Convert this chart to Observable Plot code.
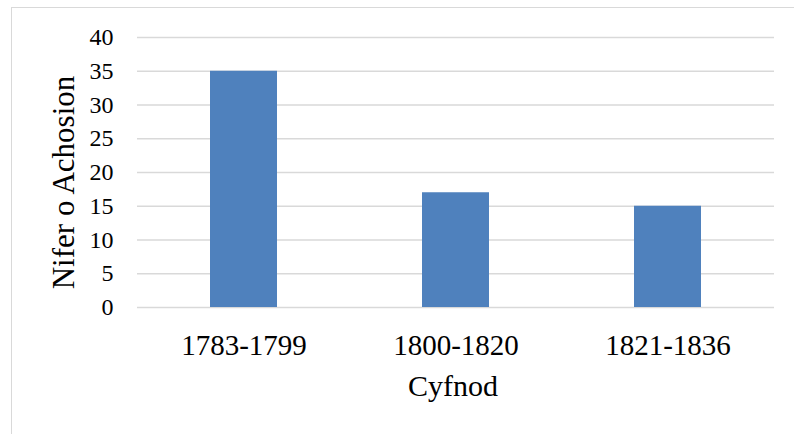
<!DOCTYPE html>
<html>
<head>
<meta charset="utf-8">
<script src="https://cdn.jsdelivr.net/npm/d3@7"></script>
<script src="https://cdn.jsdelivr.net/npm/@observablehq/plot@0.6"></script>
<style>
  html, body { margin: 0; padding: 0; background: #fff; overflow: hidden; }
  #frame { position: absolute; left: 11px; top: 6.5px; width: 820px; height: 500px;
           border: 1.5px solid #d9d9d9; box-sizing: border-box; z-index: 0; }
  #chart { position: absolute; left: 0; top: 0; z-index: 1; }
</style>
</head>
<body>
<div id="frame"></div>
<div id="chart"></div>
<script>
const categories = ["1783-1799", "1800-1820", "1821-1836"];
const values = [35, 17, 15];
const yTicks = [0, 5, 10, 15, 20, 25, 30, 35, 40];
const yTitle = "Nifer o Achosion";
const xTitle = "Cyfnod";

const data = categories.map((c, i) => ({ period: c, count: values[i] }));
const font = "'Liberation Serif', 'DejaVu Serif', serif";

const chart = Plot.plot({
  width: 794,
  height: 434,
  marginLeft: 137,
  marginRight: 20,
  marginTop: 37,
  marginBottom: 127,
  style: { fontFamily: font, background: "transparent", color: "#000" },
  x: { domain: categories, paddingInner: 0.686, paddingOuter: 0.343, label: null },
  y: { domain: [0, 40], label: null },
  marks: [
    Plot.gridY(yTicks, { stroke: "#d9d9d9", strokeOpacity: 1, strokeWidth: 1.6 }),
    Plot.barY(data, { x: "period", y: "count", fill: "#4f81bd" }),
    Plot.axisY(yTicks, { tickSize: 0, tickPadding: 24, fontSize: 24, label: null, fill: "#000" }),
    Plot.axisX({ tickSize: 0, tickPadding: 27, fontSize: 29, label: null, fill: "#000" }),
    Plot.text([yTitle], { frameAnchor: "left", dx: -64, dy: 10, rotate: -90,
      lineAnchor: "bottom", textAnchor: "middle", fontSize: 31, fill: "#000" }),
    Plot.text([xTitle], { frameAnchor: "bottom", dx: -3, dy: 88,
      lineAnchor: "bottom", textAnchor: "middle", fontSize: 30, fill: "#000" })
  ]
});
document.getElementById("chart").appendChild(chart);
</script>
</body>
</html>
